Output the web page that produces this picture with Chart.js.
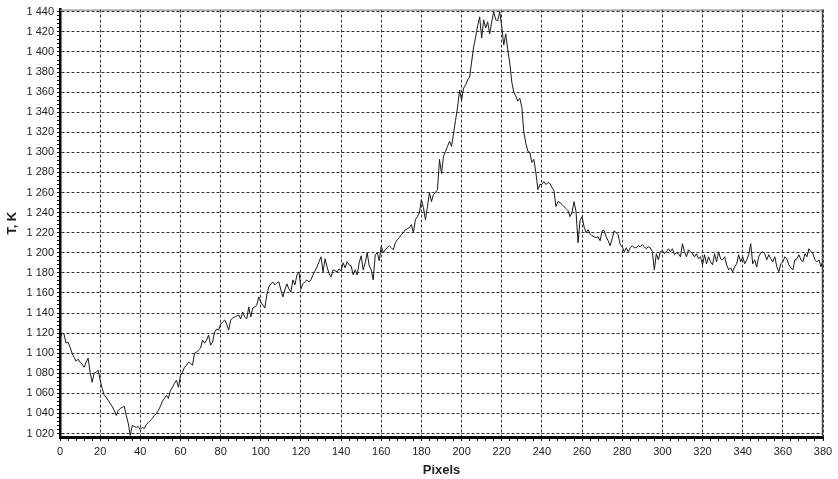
<!DOCTYPE html>
<html>
<head>
<meta charset="utf-8">
<script src="https://cdn.jsdelivr.net/npm/chart.js@4.4.1/dist/chart.umd.min.js"></script>
<style>
  html, body { margin: 0; padding: 0; background: #fff; }
  canvas { display: block; }
</style>
</head>
<body>
<canvas id="profile" width="838" height="479"></canvas>
<script>
// temperature along the line, one reading per pixel (pixel 0 .. 380)
const temps = [
  1114, 1120, 1119, 1110, 1111, 1106, 1100, 1096, 1092, 1094,
  1091, 1089, 1086, 1091, 1095, 1081, 1071, 1080, 1081, 1083,
  1073, 1065, 1058, 1056, 1053, 1050, 1047, 1043, 1038, 1043,
  1045, 1046, 1047, 1038, 1030, 1018, 1028, 1027, 1026, 1027,
  1024, 1026, 1025, 1029, 1031, 1033, 1035, 1038, 1040, 1043,
  1047, 1052, 1055, 1058, 1055, 1063, 1066, 1070, 1073, 1066,
  1078, 1081, 1086, 1088, 1091, 1090, 1088, 1100, 1101, 1103,
  1105, 1113, 1110, 1113, 1118, 1108, 1111, 1121, 1124, 1123,
  1129, 1131, 1133, 1129, 1123, 1133, 1135, 1136, 1137, 1138,
  1134, 1141, 1136, 1134, 1146, 1136, 1145, 1146, 1148, 1156,
  1151, 1148, 1145, 1158, 1166, 1169, 1171, 1168, 1170, 1171,
  1163, 1156, 1163, 1169, 1164, 1161, 1173, 1168, 1178, 1181,
  1164, 1169, 1171, 1173, 1171, 1173, 1178, 1182, 1186, 1191,
  1196, 1181, 1194, 1186, 1179, 1176, 1183, 1182, 1181, 1184,
  1182, 1190, 1185, 1191, 1188, 1187, 1178, 1183, 1178, 1190,
  1197, 1183, 1190, 1200, 1187, 1183, 1173, 1198, 1200, 1192,
  1207, 1200, 1203, 1205, 1207, 1205, 1203, 1210, 1213, 1215,
  1218, 1220, 1223, 1224, 1225, 1228, 1220, 1233, 1236, 1240,
  1253, 1245, 1233, 1246, 1260, 1251, 1258, 1260, 1263, 1293,
  1279, 1296, 1301, 1306, 1311, 1306, 1319, 1332, 1345, 1362,
  1352, 1364, 1367, 1372, 1375, 1390, 1405, 1415, 1426, 1435,
  1414, 1432, 1424, 1430, 1418, 1430, 1440, 1432, 1431, 1440,
  1425, 1407, 1418, 1402, 1389, 1370, 1360, 1356, 1351, 1354,
  1345, 1320, 1309, 1301, 1300, 1290, 1293, 1280, 1263, 1268,
  1268, 1271, 1268, 1270, 1269, 1265, 1262, 1246, 1251, 1250,
  1248, 1246, 1244, 1242, 1236, 1240, 1251, 1241, 1210, 1232,
  1236, 1226, 1220, 1223, 1219, 1217, 1216, 1215, 1216, 1212,
  1222, 1222, 1216, 1212, 1207, 1214, 1222, 1220, 1218, 1208,
  1206, 1201, 1205, 1201, 1205, 1207, 1205, 1205, 1207, 1206,
  1208, 1206, 1204, 1206, 1205, 1201, 1183, 1199, 1193, 1201,
  1202, 1199, 1201, 1204, 1201, 1204, 1198, 1200, 1199, 1196,
  1209, 1201, 1196, 1203, 1201, 1199, 1196, 1199, 1194, 1196,
  1188, 1198, 1189, 1196, 1191, 1188, 1199, 1191, 1201, 1194,
  1193, 1196, 1188, 1183, 1185, 1181, 1186, 1189, 1198, 1191,
  1196, 1189, 1193, 1198, 1209, 1189, 1193, 1186, 1196, 1200,
  1201, 1199, 1193, 1198, 1194, 1191, 1196, 1186, 1181, 1189,
  1191, 1196, 1194, 1188, 1185, 1183, 1193, 1194, 1198, 1193,
  1191, 1199, 1196, 1204, 1201, 1199, 1193, 1191, 1193, 1186,
  1193
];
const pixels = temps.map((_, i) => i);

const xTicks = [0, 20, 40, 60, 80, 100, 120, 140, 160, 180, 200, 220, 240, 260, 280, 300, 320, 340, 360, 380];
const yTicks = [1020, 1040, 1060, 1080, 1100, 1120, 1140, 1160, 1180, 1200, 1220, 1240, 1260, 1280, 1300, 1320, 1340, 1360, 1380, 1400, 1420, 1440];
const MINOR = 4;

const tickFont = { family: "'Liberation Sans', Arial, sans-serif", size: 11 };
const titleFont = { family: "'Liberation Sans', Arial, sans-serif", size: 13, weight: 'bold' };

// majors from the arrays, minor marks every 4 units in between
function withMinors(majors) {
  const out = [];
  majors.forEach((v, i) => {
    out.push({ value: v, major: true });
    if (i < majors.length - 1) {
      for (let m = v + MINOR; m < majors[i + 1]; m += MINOR) out.push({ value: m });
    }
  });
  return out;
}

const isMajor = (list, v) => list.includes(v);
const spaced = v => String(v).replace(/\B(?=(\d{3})+(?!\d))/g, ' ');

// thin frame on top and right, like the original plot box
const frame = {
  id: 'frame',
  afterDraw(chart) {
    const { ctx, chartArea: a } = chart;
    ctx.save();
    ctx.strokeStyle = '#777';
    ctx.lineWidth = 1;
    ctx.beginPath();
    ctx.moveTo(a.left, a.top + 0.5);
    ctx.lineTo(a.right, a.top + 0.5);
    ctx.stroke();
    ctx.strokeStyle = '#444';
    ctx.lineWidth = 1.5;
    ctx.beginPath();
    ctx.moveTo(a.right - 0.5, a.top);
    ctx.lineTo(a.right - 0.5, a.bottom);
    ctx.stroke();
    ctx.restore();
  }
};

new Chart(document.getElementById('profile'), {
  type: 'line',
  data: {
    labels: pixels,
    datasets: [{
      data: temps,
      borderColor: '#1a1a1a',
      borderWidth: 1,
      pointRadius: 0,
      tension: 0,
      fill: false
    }]
  },
  options: {
    responsive: false,
    animation: false,
    layout: { padding: { top: 9, right: 15, left: 0, bottom: 0 } },
    plugins: { legend: { display: false }, tooltip: { enabled: false } },
    scales: {
      x: {
        type: 'linear',
        min: 0,
        max: 380,
        afterBuildTicks: s => { s.ticks = withMinors(xTicks); },
        afterFit: s => { s.height = 42; },
        ticks: {
          autoSkip: false,
          maxRotation: 0,
          padding: 4,
          color: '#222',
          font: tickFont,
          callback: v => isMajor(xTicks, v) ? v : ''
        },
        grid: {
          color: c => c.tick && isMajor(xTicks, c.tick.value) ? '#333' : 'rgba(0,0,0,0)',
          tickColor: '#111',
          tickLength: 4,
          lineWidth: 1
        },
        border: { display: true, color: '#000', width: 3, dash: [3, 2] },
        title: { display: true, text: 'Pixels', color: '#222', font: titleFont, padding: { top: 0, bottom: 1 } }
      },
      y: {
        min: 1016.5,
        max: 1442.2,
        afterBuildTicks: s => { s.ticks = withMinors(yTicks); },
        afterFit: s => { s.width = 60; },
        ticks: {
          autoSkip: false,
          padding: 3,
          color: '#222',
          font: tickFont,
          callback: v => isMajor(yTicks, v) ? spaced(v) : ''
        },
        grid: {
          color: c => c.tick && isMajor(yTicks, c.tick.value) ? '#333' : 'rgba(0,0,0,0)',
          tickColor: '#111',
          tickLength: 3,
          lineWidth: 1
        },
        border: { display: true, color: '#000', width: 2.5, dash: [3, 2] },
        title: { display: true, text: 'T, K', color: '#222', font: titleFont, padding: { top: 5, bottom: 0 } }
      }
    }
  },
  plugins: [frame]
});
</script>
</body>
</html>
